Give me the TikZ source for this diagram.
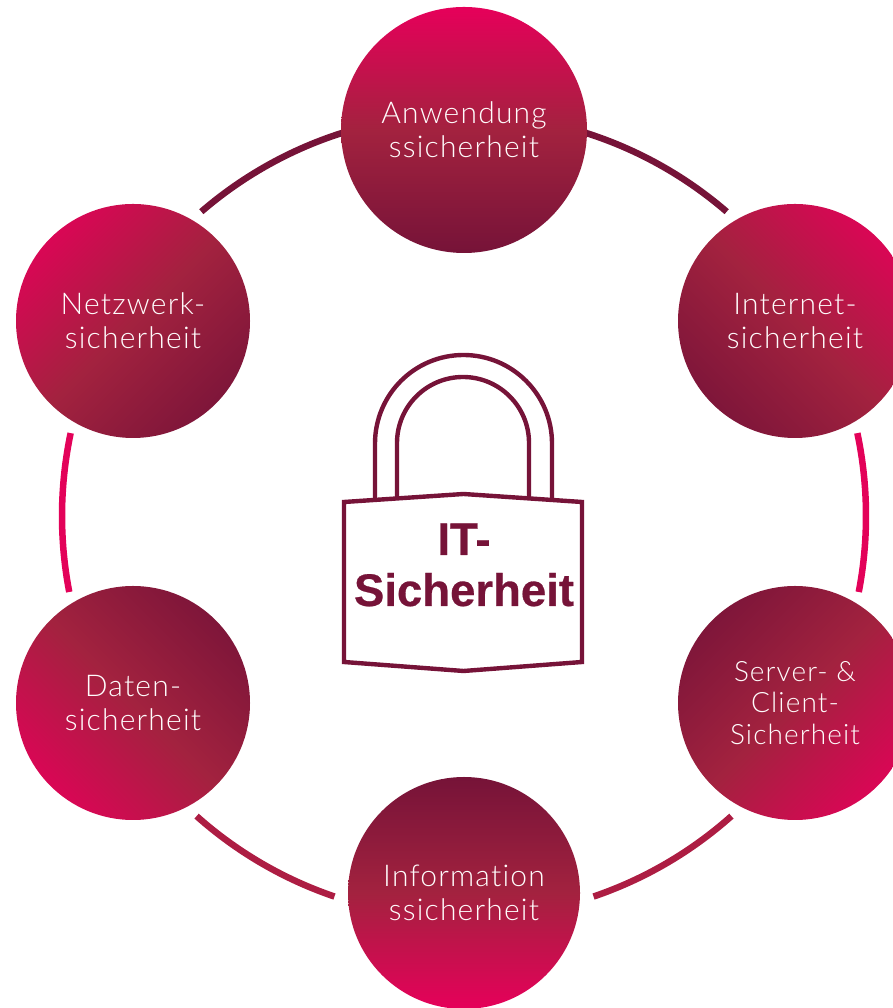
\documentclass[tikz,border=0pt]{standalone}
\usepackage{fontspec}
\setmainfont{Lato}
\newfontfamily\lightfont[LetterSpace=4,Ligatures=NoCommon]{Lato Light}
\newfontfamily\boldfont[FakeBold=0.6]{Liberation Sans Bold}
\usetikzlibrary{calc}
\definecolor{dark}{HTML}{761338}
\definecolor{mid}{HTML}{A3223F}
\definecolor{hot}{HTML}{E6005A}
\pgfdeclareverticalshading{bubshade}{100bp}{
  color(0bp)=(dark); color(25bp)=(dark); color(50bp)=(mid); color(75bp)=(hot); color(100bp)=(hot)}
\pgfdeclareverticalshading{diagshade}{100bp}{
  color(0bp)=(dark); color(19bp)=(dark); color(50bp)=(mid); color(81bp)=(hot); color(100bp)=(hot)}
\tikzset{
  bub/.style={circle, shade, shading=bubshade, minimum size=#1, inner sep=0pt, align=center,
    text=white!95!pink, font=\lightfont\fontsize{30}{34}\selectfont},
  diag/.style={shading=diagshade},
  ringarc/.style={line width=6.5pt, line cap=butt},
  lockline/.style={draw=dark, line width=4.4pt, line join=miter},
  locktext/.style={text=dark, font=\boldfont\fontsize{45.5}{51}\selectfont, align=center, inner sep=0pt}
}
\begin{document}
\begin{tikzpicture}[x=1pt,y=1pt]
\useasboundingbox (0,0) rectangle (892,1008);
\coordinate (ring) at (464,492);
% ring arcs
\coordinate (a1) at ($(ring)+(49.2:402)$);
\coordinate (a2) at ($(ring)+(130.8:402)$);
\coordinate (a3) at ($(ring)+(11.9:402)$);
\coordinate (a4) at ($(ring)+(168.1:402)$);
\coordinate (a5) at ($(ring)+(-48.3:402)$);
\coordinate (a6) at ($(ring)+(228.3:402)$);
\draw[ringarc, draw=dark] (a1) arc[start angle=49.2, end angle=76, radius=402];
\draw[ringarc, draw=dark] (a2) arc[start angle=130.8, end angle=104, radius=402];
\draw[ringarc, draw=hot!95!mid] (a3) arc[start angle=11.9, end angle=-10.9, radius=402];
\draw[ringarc, draw=hot!95!mid] (a4) arc[start angle=168.1, end angle=190.9, radius=402];
\draw[ringarc, draw=mid!85!hot] (a5) arc[start angle=-48.3, end angle=-71.2, radius=402];
\draw[ringarc, draw=mid!85!hot] (a6) arc[start angle=228.3, end angle=251.2, radius=402];
% circles
\node[bub=246pt, shading angle=0] (anw) at (464,878) {Anwendung\\ssicherheit};
\node[bub=234pt, diag, shading angle=-45] (int) at (795,687) {Internet-\\sicherheit};
\node[bub=234pt, diag, shading angle=-135, font=\lightfont\fontsize{28}{31.5}\selectfont] (srv) at (795,305) {Server- \&\\Client-\\Sicherheit};
\node[bub=232pt, shading angle=180] (inf) at (464,115) {Information\\ssicherheit};
\node[bub=234pt, diag, shading angle=135] (dat) at (133,305) {Daten-\\sicherheit};
\node[bub=234pt, diag, shading angle=45] (net) at (133,687) {Netzwerk-\\sicherheit};
% lock
\draw[lockline] (375,508) -- (375,564.5) arc[start angle=180, end angle=0, radius=88.5] -- (552,508);
\draw[lockline] (397,510) -- (397,565) arc[start angle=180, end angle=0, radius=66] -- (529,510);
\draw[lockline] (344,506) -- (463.5,514) -- (582,506) -- (582,346) -- (463.5,337) -- (344,346) -- cycle;
\node[locktext] (locklabel) at (464,443) {IT-\\Sicherheit};
\end{tikzpicture}
\end{document}
